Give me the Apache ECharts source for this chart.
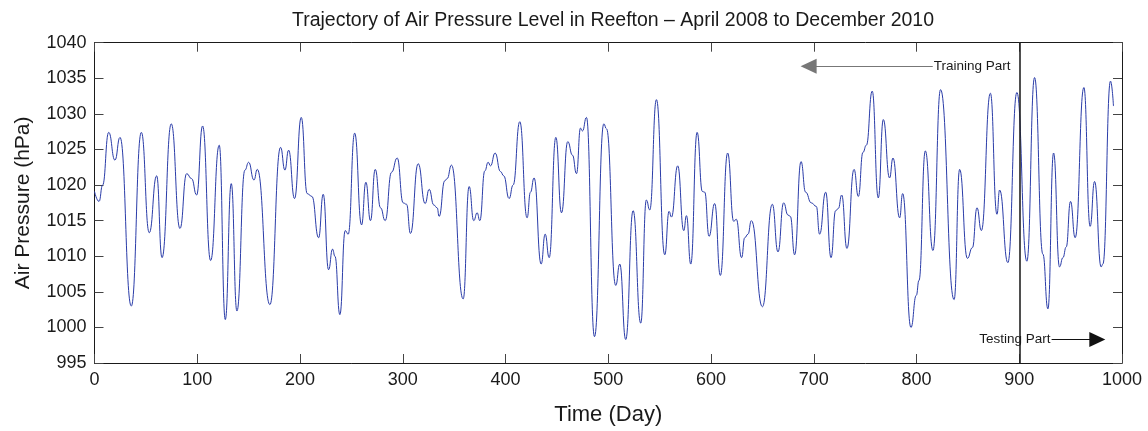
<!DOCTYPE html>
<html>
<head>
<meta charset="utf-8">
<title>Air Pressure Level in Reefton</title>
<script src="https://cdn.jsdelivr.net/npm/echarts@6/dist/echarts.min.js"></script>
<style>
  html, body { margin: 0; padding: 0; background: #ffffff; }
  #chart { width: 1148px; height: 431px; }
</style>
</head>
<body>
<div id="chart"></div>
<script>
// Daily air pressure (hPa) at turning points of the record, day index from April 2008
const days = [
  0, 4.4, 7.9, 13.8, 19.9, 24.8, 35.8, 45.6, 53.3, 60.5, 65.7, 74.7, 83.2, 89.7, 94.5, 99.4,
  105.2, 113, 121.4, 127.3, 133.1, 138.6, 146.4, 150, 155.2, 158.4, 170.7, 181.1, 185.3, 188.9,
  194.7, 201.2, 207, 211.6, 218.1, 222.6, 227.8, 231.7, 234, 238.8, 244, 246.9, 253.2, 259.9,
  264.1, 268.6, 273.2, 278.4, 282.9, 289.1, 294.6, 300.4, 303.7, 307.5, 315, 321.8, 325.7, 330.2,
  333.5, 335.4, 340.9, 343.2, 347.4, 358.8, 364.6, 369.1, 372.4, 375, 379.9, 383.1, 385.4, 389.9,
  395.1, 398.3, 403.5, 407.4, 413.9, 421, 424.3, 427.8, 434.7, 438.6, 442.5, 449, 454.5, 460.6,
  465.2, 469.1, 473, 474.9, 478.8, 486.6, 495.7, 498.3, 507.3, 511.2, 517, 524.2, 531.6, 537.1,
  540.4, 546.9, 555, 559.2, 561.5, 567.6, 573.5, 576.1, 580.3, 586.5, 591.6, 593.9, 598.1, 603.6,
  609.1, 616.2, 622.1, 624.6, 629.8, 632.8, 636, 639.3, 650, 659.7, 665.2, 670.7, 674.9, 677.2,
  681.4, 687.6, 692.1, 697.6, 702.5, 705.7, 711.6, 716.8, 721.3, 723.9, 727.2, 732.3, 739.2, 743.4,
  747.9, 751.2, 756.9, 762.8, 767.7, 773.8, 777.1, 783.6, 786.5, 794.6, 799.8, 802.4, 808.6, 816,
  823.4, 836.6, 842, 849.5, 854.4, 858.9, 863.1, 871.9, 878.3, 880.9, 888.9, 897.7, 907.4, 914.9,
  923, 927.9, 933.4, 939.2, 942.5, 945.7, 949.9, 954.4, 962.9, 969, 973.3, 979.7, 981.4, 988.8, 991.7
];
const pressure = [
  1019.1, 1017.7, 1020.0, 1027.4, 1023.5, 1026.7, 1003.0, 1027.4, 1013.3, 1021.3, 1009.8, 1028.6, 1013.9, 1021.6, 1020.9, 1018.6,
  1028.3, 1009.4, 1025.6, 1001.1, 1020.2, 1002.3, 1022.1, 1023.2, 1020.7, 1022.2, 1003.2, 1025.3, 1022.1, 1024.9,
  1018.1, 1029.5, 1018.8, 1018.4, 1012.6, 1018.7, 1008.1, 1011.0, 1010.0, 1001.8, 1013.6, 1013.1, 1027.3, 1014.4,
  1020.4, 1015.0, 1022.2, 1016.8, 1015.0, 1021.8, 1023.8, 1017.5, 1017.3, 1013.2, 1023.0, 1017.4, 1019.4, 1017.2,
  1016.8, 1015.6, 1020.6, 1020.9, 1022.8, 1004.0, 1019.8, 1015.0, 1016.1, 1015.0, 1022.0, 1023.2, 1022.7, 1024.5,
  1021.9, 1021.3, 1018.1, 1020.0, 1028.9, 1015.4, 1019.0, 1021.0, 1008.9, 1013.1, 1009.8, 1026.7, 1016.1, 1026.1,
  1024.2, 1021.6, 1028.0, 1027.6, 1029.5, 998.7, 1028.6, 1027.9, 1005.9, 1008.9, 998.3, 1016.4, 1000.6, 1017.9,
  1016.5, 1032.0, 1010.2, 1016.3, 1015.5, 1022.7, 1013.6, 1015.7, 1008.9, 1027.4, 1019.1, 1019.0, 1012.8, 1017.4,
  1007.3, 1024.5, 1014.9, 1015.2, 1009.8, 1012.6, 1013.1, 1015.0, 1002.9, 1017.3, 1010.6, 1017.5, 1015.8, 1015.6,
  1010.2, 1023.3, 1019.0, 1017.5, 1017.0, 1013.1, 1019.0, 1009.8, 1016.4, 1016.7, 1018.6, 1011.1, 1022.2, 1018.4,
  1024.6, 1025.6, 1033.2, 1018.2, 1029.2, 1021.0, 1023.8, 1015.4, 1018.8, 1000.0, 1004.5, 1006.6, 1024.8, 1010.8,
  1033.4, 1003.9, 1022.2, 1009.7, 1011.2, 1016.8, 1013.6, 1032.9, 1015.9, 1019.3, 1009.1, 1033.0, 1009.3, 1035.1,
  1010.3, 1002.6, 1024.5, 1008.5, 1009.8, 1011.3, 1017.7, 1012.6, 1033.7, 1014.2, 1020.5, 1008.5, 1008.9, 1034.6, 1031.1
];

// Axis extents and steps
const dayRange = [0, 1000];
const dayStep = 100;
const pressureRange = [995, 1040];
const pressureStep = 5;

// Split between the training and testing periods
const splitDay = 900;
const trainingArrow = { label: 'Training Part', from: [815.8, 1036.7], to: [695, 1036.7] };
const testingArrow = { label: 'Testing Part', from: [931.5, 998.3], to: [976, 998.3] };

const FONT = "'Liberation Sans', Arial, Helvetica, sans-serif";
const INK = '#1a1a1a';

const chart = echarts.init(document.getElementById('chart'), null, { renderer: 'canvas' });

const series = days.map((d, i) => [d, pressure[i]]);

const tickStyle = { show: true, inside: true, length: 9, lineStyle: { color: '#444', width: 1 } };
const plainNumber = (v) => String(v);

chart.setOption({
  animation: false,
  backgroundColor: '#ffffff',
  title: {
    text: 'Trajectory of Air Pressure Level in Reefton \u2013 April 2008 to December 2010',
    left: 608,
    top: 6,
    textAlign: 'center',
    textStyle: { fontFamily: FONT, fontSize: 19.5, fontWeight: 'normal', color: INK }
  },
  grid: { left: 94.5, right: 26, top: 42.7, bottom: 64.3, containLabel: false },
  xAxis: [
    {
      type: 'value', min: dayRange[0], max: dayRange[1], interval: dayStep,
      position: 'bottom',
      name: 'Time (Day)', nameLocation: 'middle', nameGap: 41,
      nameTextStyle: { fontFamily: FONT, fontSize: 22, color: INK },
      axisLine: { show: true, onZero: false, lineStyle: { color: INK, width: 1 } },
      axisTick: tickStyle,
      axisLabel: { fontFamily: FONT, fontSize: 18, color: INK, margin: 8, formatter: plainNumber },
      splitLine: { show: false }
    },
    {
      type: 'value', min: dayRange[0], max: dayRange[1], interval: dayStep,
      position: 'top',
      axisLine: { show: true, onZero: false, lineStyle: { color: INK, width: 1 } },
      axisTick: tickStyle,
      axisLabel: { show: false },
      splitLine: { show: false }
    }
  ],
  yAxis: [
    {
      type: 'value', min: pressureRange[0], max: pressureRange[1], interval: pressureStep,
      position: 'left',
      name: 'Air Pressure (hPa)', nameLocation: 'middle', nameGap: 61,
      nameTextStyle: { fontFamily: FONT, fontSize: 21, color: INK },
      axisLine: { show: true, onZero: false, lineStyle: { color: INK, width: 1 } },
      axisTick: tickStyle,
      axisLabel: { fontFamily: FONT, fontSize: 18, color: INK, margin: 8, formatter: plainNumber },
      splitLine: { show: false }
    },
    {
      type: 'value', min: pressureRange[0], max: pressureRange[1], interval: pressureStep,
      position: 'right',
      axisLine: { show: true, onZero: false, lineStyle: { color: INK, width: 1 } },
      axisTick: tickStyle,
      axisLabel: { show: false },
      splitLine: { show: false }
    }
  ],
  series: [
    {
      type: 'line',
      name: 'Air Pressure',
      data: series,
      xAxisIndex: 0, yAxisIndex: 0,
      smooth: 0.5,
      smoothMonotone: 'x',
      showSymbol: false,
      symbol: 'none',
      lineStyle: { color: '#2a3ca8', width: 1 },
      z: 2,
      markLine: {
        silent: true,
        animation: false,
        symbol: ['none', 'triangle'],
        symbolSize: [15, 16],
        label: {
          show: true,
          position: 'start',
          distance: 1,
          fontFamily: FONT,
          fontSize: 13.5,
          color: INK
        },
        data: [
          [
            { coord: trainingArrow.from, name: trainingArrow.label,
              lineStyle: { color: '#777', width: 1, type: 'solid' },
              label: { formatter: trainingArrow.label } },
            { coord: trainingArrow.to, itemStyle: { color: '#111' } }
          ],
          [
            { coord: testingArrow.from, name: testingArrow.label,
              lineStyle: { color: '#111', width: 1, type: 'solid' },
              label: { formatter: testingArrow.label } },
            { coord: testingArrow.to, itemStyle: { color: '#111' } }
          ],
          [
            { coord: [splitDay, pressureRange[0]], symbol: 'none',
              lineStyle: { color: '#222', width: 1.6, type: 'solid' },
              label: { show: false } },
            { coord: [splitDay, pressureRange[1]], symbol: 'none' }
          ]
        ]
      }
    }
  ]
});
</script>
</body>
</html>
